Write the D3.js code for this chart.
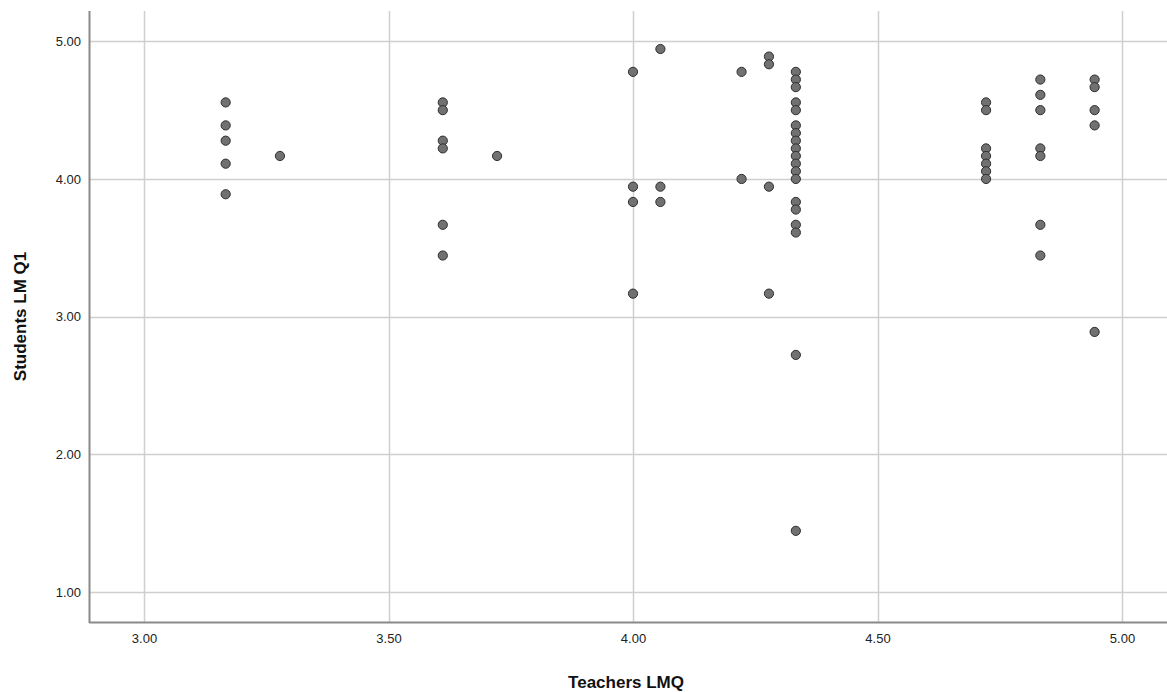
<!DOCTYPE html>
<html>
<head>
<meta charset="utf-8">
<script src="https://cdn.jsdelivr.net/npm/d3@7"></script>
<style>
  html, body { margin: 0; padding: 0; background: #fff; }
  svg { display: block; font-family: "Liberation Sans", Arial, sans-serif; }
</style>
</head>
<body>
<svg id="chart" width="1167" height="692"></svg>
<script>
// Teachers' LMQ score (x) and students' LM Q1 score (y), one entry per respondent
const teachersLMQ = [
  3.167, 3.167, 3.167, 3.167, 3.167,
  3.278,
  3.611, 3.611, 3.611, 3.611, 3.611, 3.611,
  3.722,
  4.000, 4.000, 4.000, 4.000,
  4.056, 4.056, 4.056,
  4.222, 4.222,
  4.278, 4.278, 4.278, 4.278,
  4.333, 4.333, 4.333, 4.333, 4.333, 4.333, 4.333, 4.333, 4.333, 4.333,
  4.333, 4.333, 4.333, 4.333, 4.333, 4.333, 4.333, 4.333, 4.333,
  4.722, 4.722, 4.722, 4.722, 4.722, 4.722, 4.722,
  4.833, 4.833, 4.833, 4.833, 4.833, 4.833, 4.833,
  4.944, 4.944, 4.944, 4.944, 4.944
];
const studentsLMQ1 = [
  4.556, 4.389, 4.278, 4.111, 3.889,
  4.167,
  4.556, 4.500, 4.278, 4.222, 3.667, 3.444,
  4.167,
  4.778, 3.944, 3.833, 3.167,
  4.944, 3.944, 3.833,
  4.778, 4.000,
  4.889, 4.833, 3.944, 3.167,
  4.778, 4.722, 4.667, 4.556, 4.500, 4.389, 4.333, 4.278, 4.222, 4.167,
  4.111, 4.056, 4.000, 3.833, 3.778, 3.667, 3.611, 2.722, 1.444,
  4.556, 4.500, 4.222, 4.167, 4.111, 4.056, 4.000,
  4.722, 4.611, 4.500, 4.222, 4.167, 3.667, 3.444,
  4.722, 4.667, 4.500, 4.389, 2.889
];
const xTicks = [3.0, 3.5, 4.0, 4.5, 5.0];
const yTicks = [1.0, 2.0, 3.0, 4.0, 5.0];
const xTitle = "Teachers LMQ";
const yTitle = "Students LM Q1";

const width = 1167, height = 692;
const margin = { top: 11, right: 0, bottom: 70, left: 89 };
const plotW = width - margin.left - margin.right;
const plotH = height - margin.top - margin.bottom;

const x = d3.scaleLinear().domain([2.8875, 5.092]).range([0, plotW]);
const y = d3.scaleLinear().domain([0.782, 5.22]).range([plotH, 0]);

const svg = d3.select("#chart");
const g = svg.append("g").attr("transform", `translate(${margin.left},${margin.top})`);

// grid lines
g.append("g")
  .selectAll("line.vgrid")
  .data(xTicks)
  .join("line")
  .attr("x1", d => Math.round(x(d)) + 0.5)
  .attr("x2", d => Math.round(x(d)) + 0.5)
  .attr("y1", 0)
  .attr("y2", plotH)
  .attr("stroke", "#cfcfcf")
  .attr("stroke-width", 1.5);

g.append("g")
  .selectAll("line.hgrid")
  .data(yTicks)
  .join("line")
  .attr("x1", 0)
  .attr("x2", plotW)
  .attr("y1", d => Math.round(y(d)) + 0.5)
  .attr("y2", d => Math.round(y(d)) + 0.5)
  .attr("stroke", "#cfcfcf")
  .attr("stroke-width", 1.5);

// axes
const xAxis = d3.axisBottom(x).tickValues(xTicks).tickFormat(d3.format(".2f")).tickSize(0).tickPadding(12);
const yAxis = d3.axisLeft(y).tickValues(yTicks).tickFormat(d3.format(".2f")).tickSize(0).tickPadding(8);

const gx = g.append("g").attr("transform", `translate(0,${plotH})`).call(xAxis);
const gy = g.append("g").call(yAxis);
[gx, gy].forEach(a => {
  a.select(".domain").remove();
  a.selectAll("text")
    .attr("font-family", "'Liberation Sans', Arial, sans-serif")
    .attr("font-size", 13)
    .attr("fill", "#222");
});

// axis lines
g.append("line")
  .attr("x1", 0.5).attr("x2", 0.5).attr("y1", 0).attr("y2", plotH + 1)
  .attr("stroke", "#8a8a8a").attr("stroke-width", 2);
g.append("line")
  .attr("x1", 0).attr("x2", plotW).attr("y1", plotH + 0.5).attr("y2", plotH + 0.5)
  .attr("stroke", "#8a8a8a").attr("stroke-width", 2);

// points
const points = teachersLMQ.map((t, i) => ({ t, s: studentsLMQ1[i] }));
g.append("g")
  .selectAll("circle")
  .data(points)
  .join("circle")
  .attr("cx", d => x(d.t))
  .attr("cy", d => y(d.s))
  .attr("r", 4.6)
  .attr("fill", "#717171")
  .attr("stroke", "#2e2e2e")
  .attr("stroke-width", 1);

// axis titles
svg.append("text")
  .attr("x", margin.left + x(4.0) - 7)
  .attr("y", 688)
  .attr("text-anchor", "middle")
  .attr("font-size", 17)
  .attr("font-weight", "bold")
  .attr("fill", "#111")
  .text(xTitle);

svg.append("text")
  .attr("transform", `translate(26,${margin.top + plotH / 2}) rotate(-90)`)
  .attr("text-anchor", "middle")
  .attr("font-size", 17)
  .attr("font-weight", "bold")
  .attr("fill", "#111")
  .text(yTitle);
</script>
</body>
</html>
